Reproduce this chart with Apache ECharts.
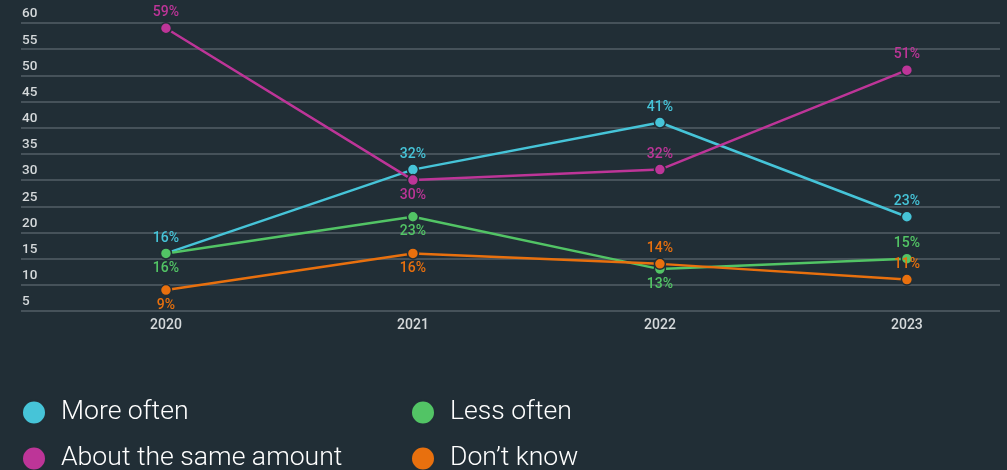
<!DOCTYPE html>
<html>
<head>
<meta charset="utf-8">
<script src="https://cdn.jsdelivr.net/npm/echarts@6/dist/echarts.min.js"></script>
<style>
  html, body { margin: 0; padding: 0; background: #212e36; }
  #chart { width: 1007px; height: 470px; }
</style>
</head>
<body>
<div id="chart"></div>
<script>
// data
const years = [2020, 2021, 2022, 2023];
const moreOften = [16, 32, 41, 23];
const sameAmount = [59, 30, 32, 51];
const lessOften = [16, 23, 13, 15];
const dontKnow = [9, 16, 14, 11];

// label position per point (above / below)
const moreOftenPos = ['top', 'top', 'top', 'top'];
const sameAmountPos = ['top', 'bottom', 'top', 'top'];
const lessOftenPos = ['bottom', 'bottom', 'bottom', 'top'];
const dontKnowPos = ['bottom', 'bottom', 'top', 'top'];

const colors = {
  more: '#46c4d8',
  same: '#bd3598',
  less: '#52c465',
  dk: '#e8700e'
};

const chart = echarts.init(document.getElementById('chart'));

function makeSeries(name, values, pos, color) {
  return {
    name: name,
    type: 'line',
    data: values.map((v, i) => ({
      value: [years[i], v],
      label: { position: pos[i] }
    })),
    symbol: 'circle',
    symbolSize: 11,
    lineStyle: { width: 2.5, color: color },
    itemStyle: { color: color, borderColor: '#212e36', borderWidth: 1.5 },
    label: {
      show: true,
      color: color,
      fontSize: 14,
      fontWeight: 500,
      fontFamily: 'Roboto',
      distance: 2,
      formatter: (p) => p.value[1] + '%'
    },
    emphasis: { disabled: true },
    animation: false
  };
}

const legendText = {
  color: '#ffffff',
  fontSize: 26.6,
  fontWeight: 300,
  fontFamily: 'Roboto',
  padding: [0, 0, 0, 10]
};

// one legend per entry so the 2x2 layout is fixed
function makeLegend(left, top, name) {
  return {
    left: left,
    top: top,
    padding: 0,
    icon: 'circle',
    itemWidth: 24,
    itemHeight: 24,
    textStyle: legendText,
    data: [name],
    selectedMode: false
  };
}

const option = {
  backgroundColor: '#212e36',
  animation: false,
  grid: { left: 21, right: 7, top: 23, bottom: 159 },
  legend: [
    makeLegend(21, 399, 'More often'),
    makeLegend(21, 445, 'About the same amount'),
    makeLegend(410, 399, 'Less often'),
    makeLegend(410, 445, "Don’t know")
  ],
  xAxis: {
    type: 'value',
    min: 2019.413,
    max: 2023.377,
    splitLine: { show: false },
    axisLine: { show: false },
    axisTick: { show: false },
    axisLabel: {
      customValues: years,
      color: '#d5d9db',
      fontSize: 14,
      fontWeight: 500,
      fontFamily: 'Roboto',
      margin: 7,
      formatter: (v) => String(v)
    }
  },
  yAxis: {
    type: 'value',
    min: 5,
    max: 60,
    interval: 5,
    axisLine: { show: false },
    axisTick: { show: false },
    splitLine: { lineStyle: { color: '#46525a', width: 2 } },
    axisLabel: {
      inside: true,
      margin: 1,
      verticalAlign: 'bottom',
      padding: [0, 0, 2, 0],
      color: '#d5d9db',
      fontSize: 13.5,
      fontWeight: 500,
      fontFamily: 'Roboto'
    }
  },
  series: [
    makeSeries('More often', moreOften, moreOftenPos, colors.more),
    makeSeries('About the same amount', sameAmount, sameAmountPos, colors.same),
    makeSeries('Less often', lessOften, lessOftenPos, colors.less),
    makeSeries("Don’t know", dontKnow, dontKnowPos, colors.dk)
  ]
};

chart.setOption(option);
</script>
</body>
</html>
